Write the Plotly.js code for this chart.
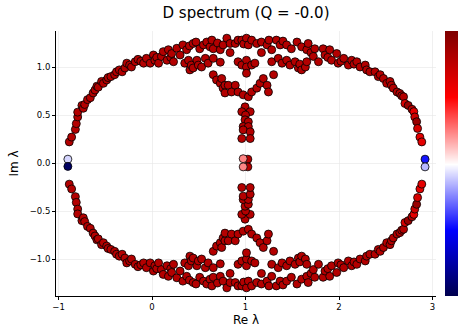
<!DOCTYPE html>
<html>
<head>
<meta charset="utf-8">
<script src="https://cdn.plot.ly/plotly-3.0.1.min.js"></script>
<style>html,body{margin:0;padding:0;background:#fff;}#plot{width:459px;height:327px;}</style>
</head>
<body>
<div id="plot"></div>
<script>
// Eigenvalues: [Re, Im]
const outerUpper = [
[-0.885,0.22],[-0.86,0.27],[-0.82,0.35],[-0.81,0.41],[-0.795,0.48],[-0.795,0.53],[-0.75,0.60],[-0.735,0.57],
[-0.72,0.61],[-0.69,0.66],[-0.66,0.68],[-0.63,0.73],[-0.61,0.76],[-0.59,0.80],[-0.575,0.79],[-0.54,0.85],
[-0.52,0.83],[-0.485,0.865],[-0.47,0.89],[-0.44,0.90],[-0.40,0.92],[-0.38,0.95],[-0.35,0.97],[-0.32,0.95],
[-0.29,0.99],[-0.27,1.04],[-0.24,1.02],[-0.22,1.0],[-0.18,1.055],[-0.15,1.08],[-0.12,1.06],[-0.09,1.04],
[-0.06,1.09],[-0.02,1.04],[0.015,1.125],[0.03,1.07],[0.05,1.10],[0.07,1.04],[0.10,1.11],[0.12,1.16],
[0.16,1.07],[0.175,1.18],[0.20,1.10],[0.21,1.14],[0.23,1.055],[0.265,1.195],[0.30,1.125],[0.33,1.23],
[0.37,1.18],[0.40,1.22],[0.44,1.245],[0.47,1.26],[0.51,1.19],[0.55,1.23],[0.585,1.26],[0.62,1.21],
[0.64,1.28],[0.655,1.19],[0.70,1.25],[0.73,1.18],[0.76,1.23],[0.80,1.30],[0.835,1.245],[0.835,1.15],
[0.89,1.245],[0.92,1.28],[0.96,1.28],[0.98,1.24],[1.01,1.30],[1.03,1.23],[1.065,1.28],[1.12,1.245],
[1.17,1.26],[1.17,1.15],[1.23,1.23],[1.25,1.28],[1.28,1.18],[1.33,1.28],[1.37,1.23],[1.40,1.27],
[1.44,1.23],[1.49,1.19],[1.55,1.26],[1.60,1.21],[1.655,1.18],[1.67,1.245],[1.70,1.15],[1.74,1.19],
[1.725,1.11],[1.78,1.055],[1.83,1.19],[1.85,1.125],[1.88,1.10],[1.90,1.18],[1.92,1.07],[1.975,1.14],
[1.99,1.04],[2.02,1.06],[2.05,1.09],[2.10,1.02],[2.135,1.07],[2.16,1.03],[2.19,1.055],[2.225,1.00],
[2.28,1.02],[2.295,0.97],[2.33,0.95],[2.385,0.95],[2.42,0.90],[2.44,0.92],[2.475,0.88],[2.51,0.83],
[2.545,0.85],[2.56,0.81],[2.58,0.78],[2.62,0.74],[2.65,0.725],[2.67,0.70],[2.69,0.69]
];
const innerUpper = [
[0.35,1.04],[0.39,1.07],[0.405,0.97],[0.42,1.02],[0.44,0.99],[0.48,1.07],[0.495,1.02],[0.53,1.00],
[0.57,1.09],[0.60,1.04],[0.655,1.09],[0.73,1.05],
[0.92,1.055],[0.96,1.02],[1.01,1.07],[1.01,1.00],[1.065,1.02],[1.10,1.04],[1.01,0.935],
[1.28,1.055],[1.35,1.09],[1.39,1.04],[1.44,1.07],[1.475,1.02],[1.53,1.055],[1.565,0.99],[1.58,1.03],
[1.60,0.97],[1.64,1.00],[1.655,1.055],
[0.655,0.92],[0.69,0.865],[0.73,0.83],[0.745,0.88],[0.76,0.78],[0.78,0.81],[0.78,0.73],[0.815,0.81],
[0.85,0.74],[0.89,0.81],[0.92,0.74],[0.975,0.71],[1.03,0.69],[1.065,0.74],[1.12,0.78],[1.155,0.83],
[1.19,0.88],[1.23,0.81],[1.245,0.74],[1.30,0.92],
[0.995,0.585],[0.96,0.535],[1.05,0.535],[1.0,0.50],[0.995,0.45],[1.03,0.43],[0.975,0.38],[1.03,0.38],
[0.975,0.345],[1.05,0.325],[0.96,0.255],[1.05,0.255],[1.025,0.04]
];
const outerLower = [
[-0.885,-0.22],[-0.86,-0.27],[-0.82,-0.35],[-0.81,-0.41],[-0.795,-0.48],[-0.795,-0.53],[-0.75,-0.60],[-0.735,-0.57],
[-0.72,-0.61],[-0.69,-0.66],[-0.66,-0.68],[-0.63,-0.73],[-0.61,-0.76],[-0.59,-0.80],[-0.575,-0.79],[-0.54,-0.85],
[-0.52,-0.83],[-0.485,-0.865],[-0.47,-0.89],[-0.44,-0.90],[-0.40,-0.92],[-0.38,-0.95],[-0.35,-0.97],[-0.32,-0.95],
[-0.29,-0.99],[-0.27,-1.04],[-0.24,-1.02],[-0.22,-1.0],[-0.18,-1.055],[-0.15,-1.08],[-0.12,-1.06],[-0.09,-1.04],
[-0.06,-1.09],[-0.02,-1.04],[0.015,-1.125],[0.03,-1.07],[0.05,-1.10],[0.07,-1.04],[0.10,-1.11],[0.12,-1.16],
[0.16,-1.07],[0.175,-1.18],[0.20,-1.10],[0.21,-1.14],[0.23,-1.055],[0.265,-1.195],[0.30,-1.125],[0.33,-1.23],
[0.37,-1.18],[0.40,-1.22],[0.44,-1.245],[0.47,-1.26],[0.51,-1.19],[0.55,-1.23],[0.585,-1.26],[0.62,-1.21],
[0.64,-1.28],[0.655,-1.19],[0.70,-1.25],[0.73,-1.18],[0.76,-1.23],[0.80,-1.30],[0.835,-1.245],[0.835,-1.15],
[0.89,-1.245],[0.92,-1.28],[0.96,-1.28],[0.98,-1.24],[1.01,-1.30],[1.03,-1.23],[1.065,-1.28],[1.12,-1.245],
[1.17,-1.26],[1.17,-1.15],[1.23,-1.23],[1.25,-1.28],[1.28,-1.18],[1.33,-1.28],[1.37,-1.23],[1.40,-1.27],
[1.44,-1.23],[1.49,-1.19],[1.55,-1.26],[1.60,-1.21],[1.655,-1.18],[1.67,-1.245],[1.70,-1.15],[1.74,-1.19],
[1.725,-1.11],[1.78,-1.055],[1.83,-1.19],[1.85,-1.125],[1.88,-1.10],[1.90,-1.18],[1.92,-1.07],[1.975,-1.14],
[1.99,-1.04],[2.02,-1.06],[2.05,-1.09],[2.10,-1.02],[2.135,-1.07],[2.16,-1.03],[2.19,-1.055],[2.225,-1.00],
[2.28,-1.02],[2.295,-0.97],[2.33,-0.95],[2.385,-0.95],[2.42,-0.90],[2.44,-0.92],[2.475,-0.88],[2.51,-0.83],
[2.545,-0.85],[2.56,-0.81],[2.58,-0.78],[2.62,-0.74],[2.65,-0.725],[2.67,-0.70],[2.69,-0.69]
];
const innerLower = [
[0.35,-1.04],[0.39,-1.07],[0.405,-0.97],[0.42,-1.02],[0.44,-0.99],[0.48,-1.07],[0.495,-1.02],[0.53,-1.00],
[0.57,-1.09],[0.60,-1.04],[0.655,-1.09],[0.73,-1.05],
[0.92,-1.055],[0.96,-1.02],[1.01,-1.07],[1.01,-1.00],[1.065,-1.02],[1.10,-1.04],[1.01,-0.935],
[1.28,-1.055],[1.35,-1.09],[1.39,-1.04],[1.44,-1.07],[1.475,-1.02],[1.53,-1.055],[1.565,-0.99],[1.58,-1.03],
[1.60,-0.97],[1.64,-1.00],[1.655,-1.055],
[0.655,-0.92],[0.69,-0.865],[0.73,-0.83],[0.745,-0.88],[0.76,-0.78],[0.78,-0.81],[0.78,-0.73],[0.815,-0.81],
[0.85,-0.74],[0.89,-0.81],[0.92,-0.74],[0.975,-0.71],[1.03,-0.69],[1.065,-0.74],[1.12,-0.78],[1.155,-0.83],
[1.19,-0.88],[1.23,-0.81],[1.245,-0.74],[1.30,-0.92],
[0.995,-0.585],[0.96,-0.535],[1.05,-0.535],[1.0,-0.50],[0.995,-0.45],[1.03,-0.43],[0.975,-0.38],[1.03,-0.38],
[0.975,-0.345],[1.05,-0.325],[0.96,-0.255],[1.05,-0.255],[1.025,-0.04]
];
// Points with distinct colours (colour value on 0..1 scale)
const specialPts = [
[2.705,0.62],[2.74,0.60],[2.78,0.56],[2.80,0.535],[2.81,0.48],[2.83,0.43],[2.84,0.36],[2.865,0.27],[2.885,0.22],
[2.705,-0.62],[2.74,-0.60],[2.78,-0.56],[2.80,-0.535],[2.81,-0.48],[2.83,-0.43],[2.84,-0.36],[2.865,-0.27],[2.885,-0.22],
[-0.90,0.04],[-0.90,-0.035],[0.975,0.045],[0.975,-0.04],[2.92,0.04],[2.92,-0.04]
];
const specialVals = [
0.83,0.95,0.9,0.8,0.85,0.95,0.83,0.8,0.8,
0.83,0.95,0.9,0.8,0.85,0.95,0.83,0.8,0.8,
0.46,0.03,0.62,0.62,0.27,0.43
];
const mainColor = '#b30000';
// colour bar levels (bottom to top)
const cbarLevels = [0, 0.25, 0.5, 0.75, 1];

const seismic = [[0,'#00004c'],[0.25,'#0000ff'],[0.5,'#ffffff'],[0.75,'#ff0000'],[1,'#7f0000']];

const mainPts = outerUpper.concat(innerUpper, outerLower, innerLower);
const mk = {size:8, line:{color:'#000', width:0.8}};

const traces = [
  {type:'scatter', mode:'markers', x:mainPts.map(p=>p[0]), y:mainPts.map(p=>p[1]),
   marker:Object.assign({color:mainColor}, mk), showlegend:false, hoverinfo:'x+y'},
  {type:'scatter', mode:'markers', x:specialPts.map(p=>p[0]), y:specialPts.map(p=>p[1]),
   marker:Object.assign({color:specialVals, colorscale:seismic, cmin:0, cmax:1, showscale:false}, mk),
   showlegend:false, hoverinfo:'x+y'},
  {type:'heatmap', xaxis:'x2', yaxis:'y2', x:[0,1], y:cbarLevels,
   z:cbarLevels.map(v=>[v,v]), zmin:0, zmax:1, zsmooth:'best', colorscale:seismic, showscale:false, hoverinfo:'skip'}
];

const fnt = {family:'DejaVu Sans, sans-serif', color:'#000'};
const layout = {
  width:459, height:327,
  margin:{l:56, r:1, t:31, b:31, pad:0},
  paper_bgcolor:'#fff', plot_bgcolor:'#fff',
  showlegend:false,
  title:{text:'D spectrum (Q = -0.0)', x:0.536, xanchor:'center', y:0.962, yanchor:'middle',
    font:Object.assign({size:15}, fnt)},
  xaxis:{domain:[0, 380/402], range:[-1.027,3.037], tickvals:[-1,0,1,2,3], showline:true, linecolor:'#000', linewidth:1,
    ticks:'outside', ticklen:3, tickcolor:'#000', zeroline:false, showgrid:true, gridcolor:'#e6e6e6', gridwidth:0.6,
    tickfont:Object.assign({size:8.5}, fnt), mirror:false,
    title:{text:'Re λ', font:Object.assign({size:12}, fnt), standoff:4}},
  yaxis:{domain:[0,1], range:[-1.385,1.375], tickvals:[-1,-0.5,0,0.5,1], tickformat:'.1f', showline:true, linecolor:'#000', linewidth:1,
    ticks:'outside', ticklen:3, tickcolor:'#000', zeroline:false, showgrid:true, gridcolor:'#e6e6e6', gridwidth:0.6,
    tickfont:Object.assign({size:8.5}, fnt), mirror:false,
    title:{text:'Im λ', font:Object.assign({size:12}, fnt), standoff:8}},
  xaxis2:{domain:[389/402, 1], range:[0,1], anchor:'y2', visible:false, fixedrange:true},
  yaxis2:{domain:[0,1], range:[0,1], anchor:'x2', visible:false, fixedrange:true}
};
Plotly.newPlot('plot', traces, layout, {displayModeBar:false, staticPlot:true});
</script>
</body>
</html>
